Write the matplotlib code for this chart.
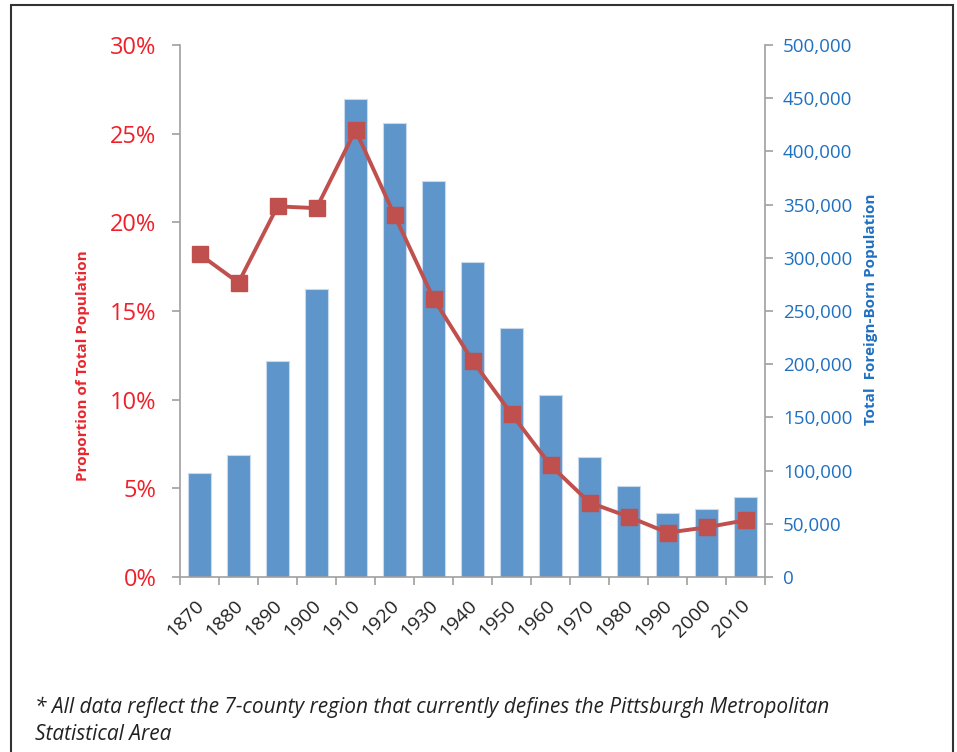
import numpy as np
import matplotlib.pyplot as plt
from matplotlib.ticker import FuncFormatter, FixedLocator
from matplotlib.patches import Rectangle

years = ['1870', '1880', '1890', '1900', '1910', '1920', '1930', '1940',
         '1950', '1960', '1970', '1980', '1990', '2000', '2010']
foreign_born = [97700, 114700, 203000, 270700, 449000, 426500, 372000, 296000,
                234000, 171000, 112800, 85500, 60200, 63900, 75200]
proportion = [18.2, 16.6, 20.9, 20.8, 25.2, 20.4, 15.7, 12.2,
              9.2, 6.3, 4.2, 3.4, 2.5, 2.8, 3.2]

plt.rcParams['font.family'] = ['Open Sans', 'DejaVu Sans']

def main():
    fig = plt.figure(figsize=(9.57, 7.52), dpi=100)
    fig.patches.append(Rectangle((11 / 957, -0.01), 942 / 957, 1 - 5 / 752 + 0.01,
                                 transform=fig.transFigure, fill=False,
                                 edgecolor='#333333', linewidth=1.5))

    ax = fig.add_axes([180 / 957, 1 - 577 / 752, 585 / 957, 532 / 752])
    ax2 = ax.twinx()
    x = np.arange(len(years))
    grey = '#A0A0A0'

    # bars on right axis
    ax2.bar(x, foreign_born, width=0.6, color='#5E95CA', edgecolor='#C9DAEE',
            linewidth=0.8, zorder=1)
    ax2.set_ylim(0, 500000)
    ax2.yaxis.set_major_locator(FixedLocator(np.arange(0, 500001, 50000)))
    ax2.yaxis.set_major_formatter(FuncFormatter(lambda v, p: f'{int(v):,}'))
    ax2.tick_params(axis='y', colors=grey, labelcolor='#1F70C1', labelsize=13.5,
                    length=6, width=1.2, pad=7)
    ax2.set_ylabel('Total  Foreign-Born Population', color='#1F70C1',
                   fontsize=11, fontweight='bold')
    ax2.yaxis.set_label_coords(1.17, 0.504)

    # line on left axis, drawn above bars
    ax.set_zorder(ax2.get_zorder() + 1)
    ax.patch.set_visible(False)
    ax.plot(x, proportion, color='#C0504D', linewidth=2.8, marker='s',
            markersize=11.5, markerfacecolor='#C0504D', markeredgecolor='#C0504D')
    ax.set_ylim(0, 30)
    ax.set_xlim(-0.5, len(years) - 0.5)
    ax.yaxis.set_major_locator(FixedLocator(np.arange(0, 31, 5)))
    ax.yaxis.set_major_formatter(FuncFormatter(lambda v, p: f'{int(v)}%'))
    ax.tick_params(axis='y', colors=grey, labelcolor='#F0202A', labelsize=17,
                   length=6, width=1.2, pad=11)
    ax.set_ylabel('Proportion of Total Population', color='#E8262E',
                  fontsize=11, fontweight='bold')
    ax.yaxis.set_label_coords(-0.153, 0.397)

    # year labels: anchored by their upper-right corner a bit right of bar centre
    ax.set_xticks(x + 0.2)
    ax.set_xticklabels(years, rotation=45, fontsize=14, color='#222222',
                       ha='right', va='top')
    ax.set_xticks(np.arange(-0.5, len(years), 1), minor=True)
    ax.tick_params(axis='x', which='major', length=0, pad=14)
    ax.tick_params(axis='x', which='minor', colors=grey, length=6, width=1.2)

    for a in (ax, ax2):
        a.spines['top'].set_visible(False)
        for s in ('left', 'right', 'bottom'):
            a.spines[s].set_color(grey)
            a.spines[s].set_linewidth(1.2)
    ax.spines['right'].set_visible(False)
    ax2.spines['left'].set_visible(False)
    ax2.spines['bottom'].set_visible(False)

    fig.text(35 / 957, 1 - 707 / 752, '* All data reflect the 7-county region that currently defines the Pittsburgh Metropolitan',
             fontsize=15, style='italic', color='#222222', va='center')
    fig.text(35 / 957, 1 - 734 / 752, 'Statistical Area',
             fontsize=15, style='italic', color='#222222', va='center')

    fig.savefig('out.png', dpi=100)

if __name__ == '__main__':
    main()
